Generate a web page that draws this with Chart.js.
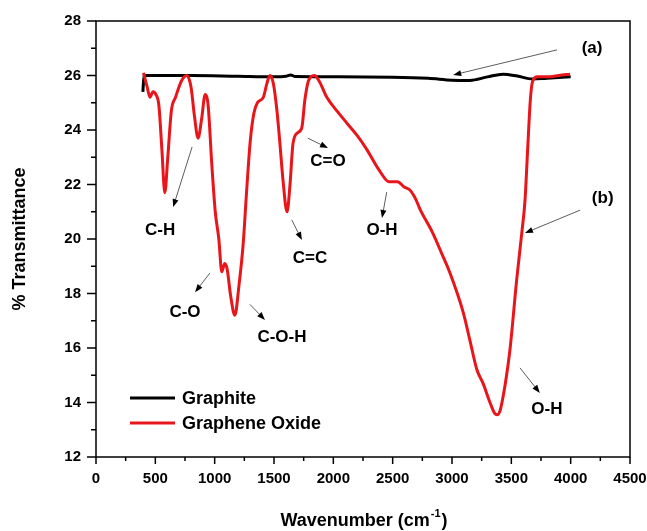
<!DOCTYPE html>
<html>
<head>
<meta charset="utf-8">
<script src="https://cdn.jsdelivr.net/npm/chart.js@4"></script>
<style>
  html, body { margin: 0; padding: 0; background: #fff; }
  #wrap { width: 647px; height: 531px; }
</style>
</head>
<body>
<div id="wrap"><canvas id="chart"></canvas></div>
<script>
// Graphene oxide spectrum (wavenumber, % transmittance)
const goX = [400, 430, 455, 480, 505, 530, 555, 580, 605, 635, 670, 720, 765, 800, 830, 860, 890, 920,
  945, 975, 1005, 1035, 1060, 1085, 1105, 1135, 1170, 1205, 1240, 1270, 1300, 1330, 1360, 1410, 1440,
  1465, 1495, 1525, 1550, 1575, 1610, 1635, 1660, 1700, 1735, 1760, 1790, 1840, 1880, 1945, 2030, 2115,
  2200, 2280, 2390, 2470, 2540, 2600, 2645, 2690, 2730, 2840, 2910, 2983, 3095, 3150, 3210, 3262, 3320,
  3360, 3380, 3405, 3430, 3460, 3490, 3545, 3590, 3615, 3640, 3660, 3680, 3720, 3825, 3900, 3995];
const goY = [26.1, 25.6, 25.2, 25.4, 25.3, 24.9, 23.3, 21.7, 23.0, 24.7, 25.2, 25.8, 26.0, 25.6, 24.5, 23.7, 24.4, 25.3,
  24.9, 22.8, 21.0, 20.0, 18.8, 19.1, 18.9, 17.9, 17.2, 18.3, 19.8, 21.8, 23.6, 24.6, 25.0, 25.2, 25.7,
  26.0, 25.7, 24.7, 23.5, 22.2, 21.0, 22.0, 23.5, 23.9, 24.1, 25.1, 25.8, 26.0, 25.8, 25.2, 24.7, 24.25,
  23.8, 23.3, 22.5, 22.1, 22.1, 21.9, 21.8, 21.5, 21.1, 20.2, 19.5, 18.75, 17.3, 16.3, 15.2, 14.7, 14.0,
  13.6, 13.55, 13.7, 14.2, 15.0, 16.0, 18.5, 20.3, 21.4, 23.5, 25.1, 25.8, 25.95, 25.95, 26.0, 26.05];

// Graphite spectrum
const graphiteX = [395, 405, 430, 800, 1200, 1500, 1600, 1640, 1680, 2000, 2500, 2800, 3000, 3150,
  3300, 3430, 3550, 3680, 3800, 4000];
const graphiteY = [25.4, 25.98, 26.0, 26.0, 25.97, 25.95, 25.97, 26.02, 25.96, 25.95, 25.94, 25.9, 25.83, 25.82,
  25.95, 26.05, 25.98, 25.87, 25.9, 25.95];

// Peak labels: text, anchor (data units), arrow from -> to (data units)
const peakText = ['C-H', 'C-O', 'C-O-H', 'C=C', 'C=O', 'O-H', 'O-H', '(a)', '(b)'];
const peakAt = [[540, 20.33], [750, 17.32], [1567, 16.4], [1803, 19.3], [1955, 22.86], [2410, 20.33],
  [3800, 13.76], [4180, 27.0], [4270, 21.5]];
const arrowFrom = [[810, 23.38], [960, 18.75], [1297, 17.6], [1650, 20.7], [1785, 23.7], [2450, 21.72],
  [3573, 15.27], [3885, 26.94], [4080, 21.06]];
const arrowTo = [[650, 21.17], [835, 18.05], [1424, 17.03], [1735, 19.96], [1955, 23.34], [2410, 20.77],
  [3740, 14.35], [3010, 26.02], [3615, 20.22]];

const seriesNames = ['Graphite', 'Graphene Oxide'];
const seriesColors = ['#000000', '#e8161b'];

const toPoints = (xs, ys) => xs.map((x, i) => ({ x: x, y: ys[i] }));

const FONT = '"Liberation Sans", Arial, sans-serif';

const decorations = {
    id: 'decorations',
    afterDraw(chart) {
        const { ctx, chartArea: a, scales: { x, y } } = chart;
        ctx.save();
        ctx.strokeStyle = '#000';
        ctx.lineWidth = 1.5;
        ctx.strokeRect(a.left, a.top, a.right - a.left, a.bottom - a.top);

        ctx.beginPath();
        for (let v = 0; v <= 4500; v += 250) {
            const px = x.getPixelForValue(v);
            ctx.moveTo(px, a.bottom);
            ctx.lineTo(px, a.bottom + (v % 500 === 0 ? 7 : 4));
        }
        for (let v = 12; v <= 28; v++) {
            const py = y.getPixelForValue(v);
            ctx.moveTo(a.left, py);
            ctx.lineTo(a.left - (v % 2 === 0 ? 9 : 5), py);
        }
        ctx.stroke();

        // peak labels and arrows
        ctx.fillStyle = '#000';
        ctx.textAlign = 'center';
        ctx.textBaseline = 'middle';
        peakText.forEach((t, i) => {
            ctx.font = 'bold 17px ' + FONT;
            ctx.fillText(t, x.getPixelForValue(peakAt[i][0]), y.getPixelForValue(peakAt[i][1]));
            const x1 = x.getPixelForValue(arrowFrom[i][0]), y1 = y.getPixelForValue(arrowFrom[i][1]);
            const x2 = x.getPixelForValue(arrowTo[i][0]), y2 = y.getPixelForValue(arrowTo[i][1]);
            const ang = Math.atan2(y2 - y1, x2 - x1);
            ctx.strokeStyle = '#333';
            ctx.lineWidth = 0.8;
            ctx.beginPath();
            ctx.moveTo(x1, y1);
            ctx.lineTo(x2 - 6 * Math.cos(ang), y2 - 6 * Math.sin(ang));
            ctx.stroke();
            ctx.beginPath();
            ctx.moveTo(x2, y2);
            ctx.lineTo(x2 - 8 * Math.cos(ang) + 3 * Math.sin(ang), y2 - 8 * Math.sin(ang) - 3 * Math.cos(ang));
            ctx.lineTo(x2 - 8 * Math.cos(ang) - 3 * Math.sin(ang), y2 - 8 * Math.sin(ang) + 3 * Math.cos(ang));
            ctx.closePath();
            ctx.fill();
        });

        // legend
        ctx.textAlign = 'left';
        ctx.font = 'bold 18px ' + FONT;
        seriesNames.forEach((name, i) => {
            const ly = a.bottom - 59 + i * 25;
            ctx.strokeStyle = seriesColors[i];
            ctx.lineWidth = 3;
            ctx.beginPath();
            ctx.moveTo(a.left + 34, ly);
            ctx.lineTo(a.left + 79, ly);
            ctx.stroke();
            ctx.fillStyle = '#000';
            ctx.fillText(name, a.left + 86, ly + 1);
        });

        // axis titles
        ctx.font = 'bold 18px ' + FONT;
        ctx.textBaseline = 'alphabetic';
        const main = 'Wavenumber (cm', sup = '-1', close = ')';
        const wMain = ctx.measureText(main).width, wClose = ctx.measureText(close).width;
        ctx.font = 'bold 11px ' + FONT;
        const wSup = ctx.measureText(sup).width;
        let tx = (a.left + a.right) / 2 - (wMain + wSup + wClose) / 2;
        const ty = 526;
        ctx.font = 'bold 18px ' + FONT;
        ctx.fillText(main, tx, ty);
        ctx.font = 'bold 11px ' + FONT;
        ctx.fillText(sup, tx + wMain + 1, ty - 9);
        ctx.font = 'bold 18px ' + FONT;
        ctx.fillText(close, tx + wMain + wSup + 2, ty);

        ctx.translate(20, (a.top + a.bottom) / 2);
        ctx.rotate(-Math.PI / 2);
        ctx.textAlign = 'center';
        ctx.textBaseline = 'middle';
        ctx.fillText('% Transmittance', 0, 0);
        ctx.restore();
    }
};

new Chart(document.getElementById('chart'), {
    type: 'line',
    data: {
        datasets: [{
            label: seriesNames[0],
            data: toPoints(graphiteX, graphiteY),
            borderColor: seriesColors[0],
            borderWidth: 3,
            order: 1
        }, {
            label: seriesNames[1],
            data: toPoints(goX, goY),
            borderColor: seriesColors[1],
            borderWidth: 3,
            order: 0
        }]
    },
    options: {
        responsive: true,
        maintainAspectRatio: false,
        animation: false,
        elements: {
            point: { radius: 0 },
            line: { cubicInterpolationMode: 'monotone' }
        },
        layout: { padding: { top: 21, right: 17, left: 0, bottom: 0 } },
        plugins: { legend: { display: false }, tooltip: { enabled: false } },
        scales: {
            x: {
                type: 'linear',
                min: 0,
                max: 4500,
                grid: { display: false },
                border: { display: false },
                ticks: {
                    stepSize: 500,
                    padding: 5,
                    color: '#000',
                    font: { family: FONT, size: 15, weight: 'bold' },
                    callback: v => String(v)
                },
                afterFit: s => { s.height = 74; s.paddingLeft = 0; s.paddingRight = 0; }
            },
            y: {
                min: 12,
                max: 28,
                grid: { display: false },
                border: { display: false },
                ticks: {
                    stepSize: 2,
                    padding: 7,
                    color: '#000',
                    font: { family: FONT, size: 15, weight: 'bold' },
                    callback: v => String(v)
                },
                afterFit: s => { s.width = 96; s.paddingTop = 0; s.paddingBottom = 0; }
            }
        }
    },
    plugins: [decorations]
});
</script>
</body>
</html>
